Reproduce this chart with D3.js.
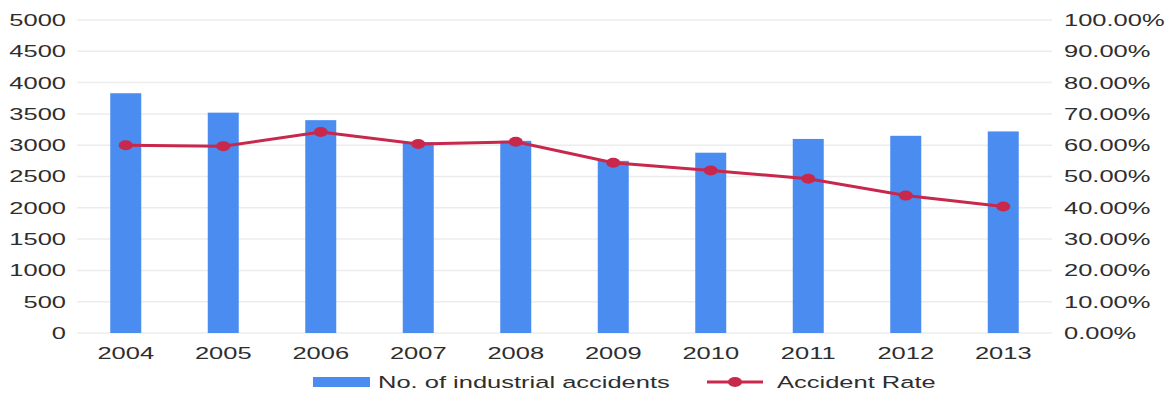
<!DOCTYPE html>
<html>
<head>
<meta charset="utf-8">
<script src="https://cdn.jsdelivr.net/npm/d3@7"></script>
<style>
  body { margin: 0; background: #fff; }
  text { font-family: "Liberation Sans", Arial, sans-serif; fill: #2e2e2e; }
</style>
</head>
<body>
<svg id="chart" width="1173" height="393"></svg>
<script>
// Chart data
const years = ["2004", "2005", "2006", "2007", "2008", "2009", "2010", "2011", "2012", "2013"];
const accidents = [3830, 3520, 3400, 3050, 3070, 2750, 2880, 3100, 3150, 3220];
const accidentRate = [0.600, 0.597, 0.642, 0.604, 0.611, 0.544, 0.519, 0.493, 0.439, 0.404];
const leftTicks = [0, 500, 1000, 1500, 2000, 2500, 3000, 3500, 4000, 4500, 5000];
const rightTicks = [0, 0.1, 0.2, 0.3, 0.4, 0.5, 0.6, 0.7, 0.8, 0.9, 1.0];
const seriesNames = ["No. of industrial accidents", "Accident Rate"];

const barColor = "#4a8cf0";
const lineColor = "#c8284c";
// The reference text is drawn wide, so stretch it horizontally
const stretch = 1.5;
const fontSize = "17px";

const margin = { top: 20, right: 121, bottom: 60, left: 77 };
const width = 1173, height = 393;

const svg = d3.select("#chart");

const x = d3.scaleBand()
  .domain(years)
  .range([margin.left, width - margin.right]);

const yLeft = d3.scaleLinear()
  .domain([0, 5000])
  .range([height - margin.bottom, margin.top]);

const yRight = d3.scaleLinear()
  .domain([0, 1])
  .range([height - margin.bottom, margin.top]);

// Gridlines
svg.append("g")
  .selectAll("line")
  .data(leftTicks)
  .join("line")
  .attr("x1", margin.left)
  .attr("x2", width - margin.right)
  .attr("y1", d => yLeft(d))
  .attr("y2", d => yLeft(d))
  .attr("stroke", "#ececec")
  .attr("stroke-width", 1.5);

function styleTicks(g) {
  g.select(".domain").remove();
  g.selectAll("text")
    .style("font-size", fontSize)
    .attr("transform", `scale(${stretch},1)`);
}

// Left axis
svg.append("g")
  .attr("transform", `translate(${margin.left - 11},0)`)
  .call(d3.axisLeft(yLeft).tickValues(leftTicks).tickFormat(d3.format("d")).tickSize(0).tickPadding(0))
  .call(styleTicks);

// Right axis
svg.append("g")
  .attr("transform", `translate(${width - margin.right + 12},0)`)
  .call(d3.axisRight(yRight).tickValues(rightTicks).tickFormat(d3.format(".2%")).tickSize(0).tickPadding(0))
  .call(styleTicks);

// Bottom axis
svg.append("g")
  .attr("transform", `translate(0,${height - margin.bottom + 12})`)
  .call(d3.axisBottom(x).tickSize(0).tickPadding(0))
  .call(styleTicks)
  .selectAll("text").attr("dy", "0.8em");

// Bars
const barWidth = 31;
svg.append("g")
  .selectAll("rect")
  .data(accidents)
  .join("rect")
  .attr("x", (d, i) => x(years[i]) + x.bandwidth() / 2 - barWidth / 2)
  .attr("y", d => yLeft(d))
  .attr("width", barWidth)
  .attr("height", d => yLeft(0) - yLeft(d))
  .attr("fill", barColor);

// Rate line
const line = d3.line()
  .x((d, i) => x(years[i]) + x.bandwidth() / 2)
  .y(d => yRight(d));

svg.append("path")
  .datum(accidentRate)
  .attr("d", line)
  .attr("fill", "none")
  .attr("stroke", lineColor)
  .attr("stroke-width", 3);

svg.append("g")
  .selectAll("ellipse")
  .data(accidentRate)
  .join("ellipse")
  .attr("cx", (d, i) => x(years[i]) + x.bandwidth() / 2)
  .attr("cy", d => yRight(d))
  .attr("rx", 7)
  .attr("ry", 5)
  .attr("fill", lineColor);

// Legend
const legend = svg.append("g").attr("transform", "translate(0,382)");
legend.append("rect")
  .attr("x", 313).attr("y", -5)
  .attr("width", 57).attr("height", 10)
  .attr("fill", barColor);
legend.append("text")
  .attr("transform", `translate(378,0) scale(${stretch},1)`)
  .attr("dy", "0.35em")
  .style("font-size", fontSize)
  .text(seriesNames[0]);
legend.append("line")
  .attr("x1", 707).attr("x2", 763)
  .attr("y1", 0).attr("y2", 0)
  .attr("stroke", lineColor).attr("stroke-width", 3);
legend.append("ellipse")
  .attr("cx", 735).attr("cy", 0)
  .attr("rx", 7).attr("ry", 5)
  .attr("fill", lineColor);
legend.append("text")
  .attr("transform", `translate(777,0) scale(${stretch},1)`)
  .attr("dy", "0.35em")
  .style("font-size", fontSize)
  .text(seriesNames[1]);
</script>
</body>
</html>
